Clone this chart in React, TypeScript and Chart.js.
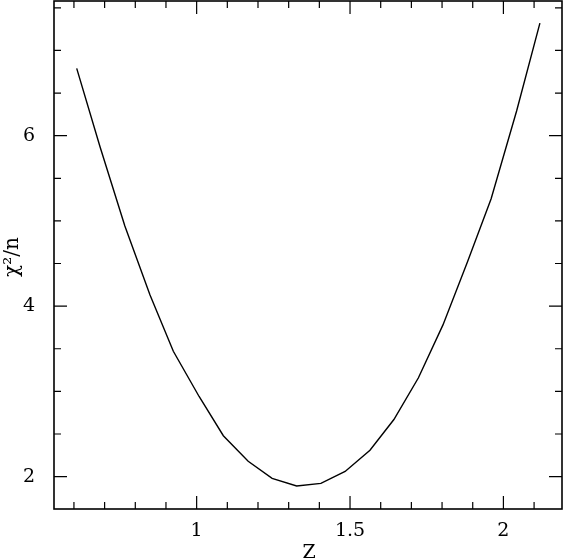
import React, { useEffect, useRef } from "react";
import { Chart, registerables } from "chart.js";

Chart.register(...registerables);

const zValues = [0.609, 0.685, 0.766, 0.848, 0.924, 1.008, 1.087, 1.168, 1.246, 1.326, 1.405, 1.484, 1.565, 1.643, 1.723, 1.803, 1.883, 1.96, 2.043, 2.119];
const chiValues = [6.79, 5.87, 4.94, 4.13, 3.47, 2.94, 2.48, 2.18, 1.98, 1.89, 1.92, 2.06, 2.31, 2.67, 3.16, 3.78, 4.52, 5.26, 6.29, 7.32];
const xMajorTicks = [1, 1.5, 2];
const xMinorTicks = [0.6, 0.7, 0.8, 0.9, 1.1, 1.2, 1.3, 1.4, 1.6, 1.7, 1.8, 1.9, 2.1];
const yMajorTicks = [2, 4, 6];
const yMinorTicks = [2.5, 3, 3.5, 4.5, 5, 5.5, 6.5, 7, 7.5];
const xRange = [0.535, 2.191];
const yRange = [1.62, 7.58];
const xTitle = "Z";
const yTitle = "χ²/n";

const FONT = "'DejaVu Serif', 'Liberation Serif', serif";

const framePlugin = {
  id: "frameTicks",
  afterDraw(chart: any) {
    const { ctx, chartArea } = chart;
    const { left, right, top, bottom } = chartArea;
    const xs = chart.scales.x;
    const ys = chart.scales.y;
    ctx.save();
    ctx.strokeStyle = "#000";
    ctx.lineWidth = 1.6;
    ctx.strokeRect(left, top, right - left, bottom - top);
    ctx.lineWidth = 1.2;
    const MAJ = 13;
    const MIN = 7;
    const drawX = (v: number, len: number) => {
      const px = xs.getPixelForValue(v);
      ctx.beginPath();
      ctx.moveTo(px, bottom);
      ctx.lineTo(px, bottom - len);
      ctx.moveTo(px, top);
      ctx.lineTo(px, top + len);
      ctx.stroke();
    };
    const drawY = (v: number, len: number) => {
      const py = ys.getPixelForValue(v);
      ctx.beginPath();
      ctx.moveTo(left, py);
      ctx.lineTo(left + len, py);
      ctx.moveTo(right, py);
      ctx.lineTo(right - len, py);
      ctx.stroke();
    };
    xMajorTicks.forEach((v) => drawX(v, MAJ));
    xMinorTicks.forEach((v) => drawX(v, MIN));
    yMajorTicks.forEach((v) => drawY(v, MAJ));
    yMinorTicks.forEach((v) => drawY(v, MIN));

    ctx.fillStyle = "#000";
    ctx.font = `19px ${FONT}`;
    ctx.textAlign = "center";
    ctx.textBaseline = "middle";
    ctx.fillText(xTitle, (left + right) / 2 + 1, bottom + 44);
    ctx.translate(13, 257);
    ctx.rotate(-Math.PI / 2);
    ctx.font = `20px ${FONT}`;
    ctx.fillText(yTitle, 0, 0);
    ctx.restore();
  },
};

export default function App() {
  const ref = useRef<HTMLCanvasElement | null>(null);
  useEffect(() => {
    if (!ref.current) return;
    const chart = new Chart(ref.current, {
      type: "line",
      data: {
        datasets: [
          {
            data: zValues.map((z, i) => ({ x: z, y: chiValues[i] })),
            borderColor: "#000",
            borderWidth: 1.4,
            pointRadius: 0,
            fill: false,
            tension: 0,
          },
        ],
      },
      options: {
        animation: false,
        responsive: false,
        layout: { padding: { top: 1, right: 2, left: 0, bottom: 0 } },
        plugins: { legend: { display: false }, tooltip: { enabled: false } },
        scales: {
          x: {
            type: "linear",
            min: xRange[0],
            max: xRange[1],
            afterBuildTicks: (s: any) => {
              s.ticks = xMajorTicks.map((v) => ({ value: v }));
            },
            afterFit: (s: any) => {
              s.height = 49;
              s.paddingLeft = 0;
              s.paddingRight = 0;
            },
            grid: { display: false },
            border: { display: false },
            ticks: {
              color: "#000",
              font: { family: FONT, size: 19 },
              padding: 3,
              maxRotation: 0,
              autoSkip: false,
              callback: (v: any) => String(v),
            },
          },
          y: {
            type: "linear",
            min: yRange[0],
            max: yRange[1],
            afterBuildTicks: (s: any) => {
              s.ticks = yMajorTicks.map((v) => ({ value: v }));
            },
            afterFit: (s: any) => {
              s.width = 54;
              s.paddingTop = 0;
              s.paddingBottom = 0;
            },
            grid: { display: false },
            border: { display: false },
            ticks: {
              color: "#000",
              font: { family: FONT, size: 19 },
              padding: 11,
              autoSkip: false,
              callback: (v: any) => String(v),
            },
          },
        },
      },
      plugins: [framePlugin],
    });
    return () => chart.destroy();
  }, []);
  return (
    <div style={{ position: "absolute", left: 0, top: 0, width: 564, height: 558, background: "#fff" }}>
      <canvas ref={ref} width={564} height={558} style={{ display: "block" }} />
    </div>
  );
}
